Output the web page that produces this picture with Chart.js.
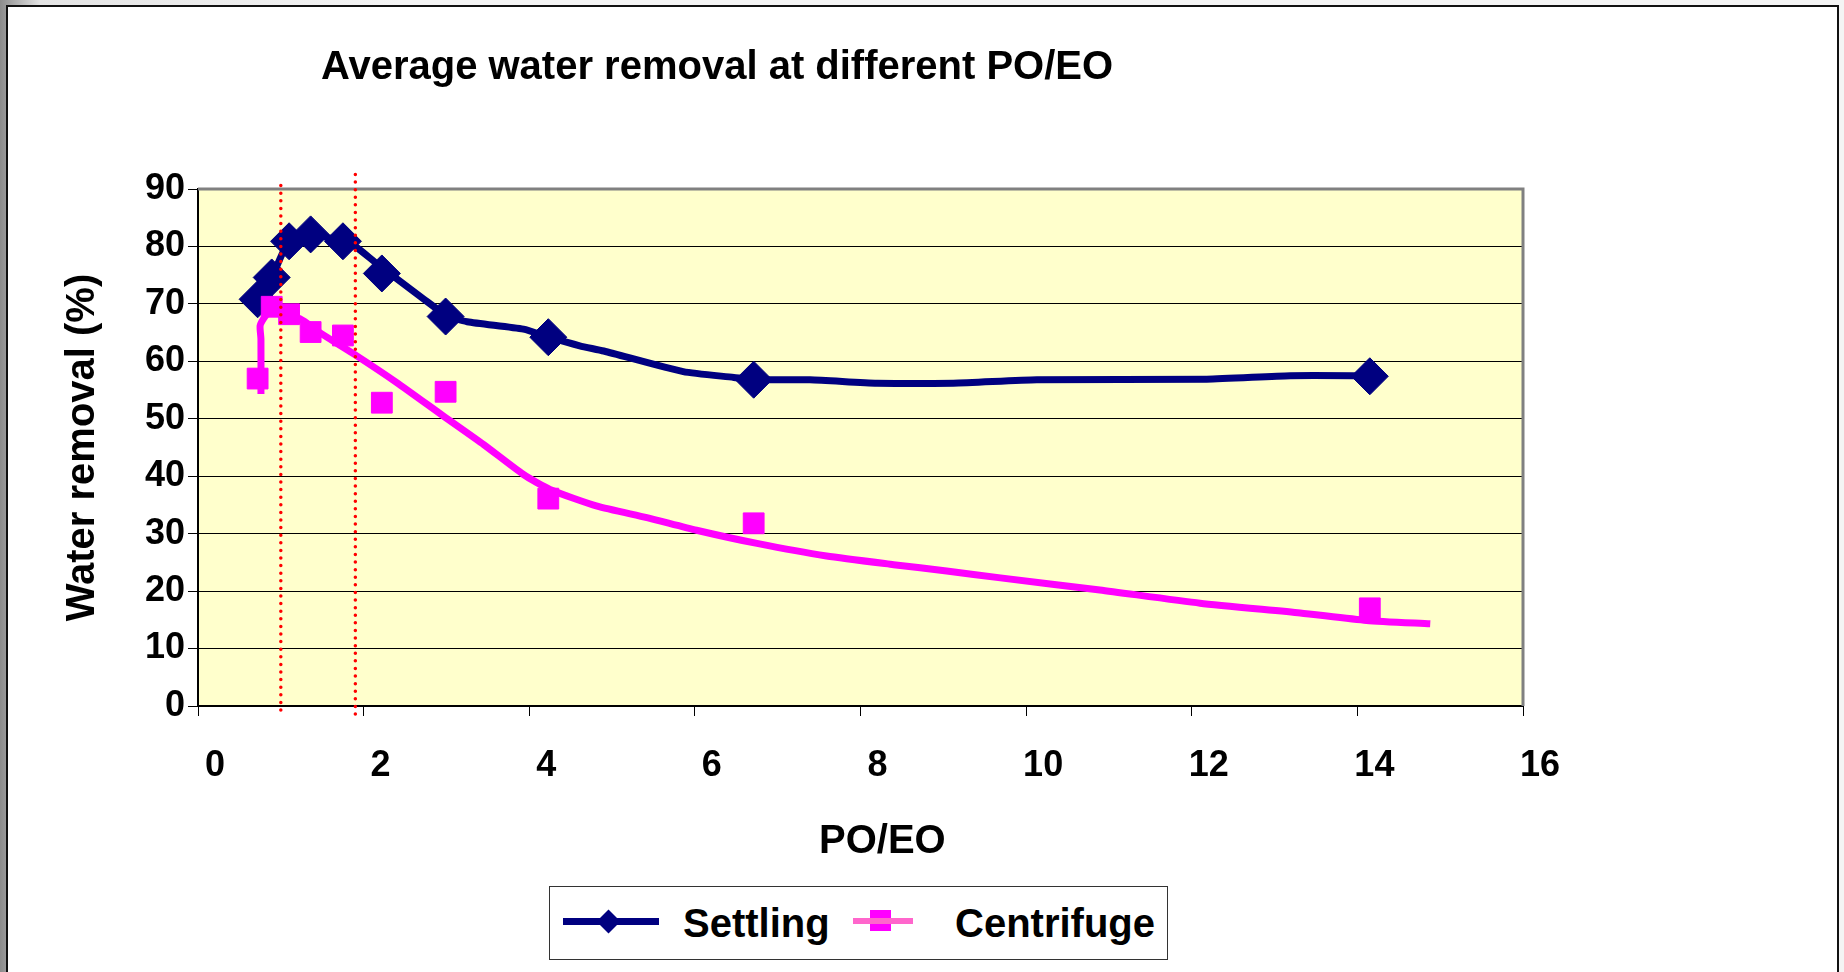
<!DOCTYPE html>
<html>
<head>
<meta charset="utf-8">
<title>Average water removal at different PO/EO</title>
<script src="https://cdn.jsdelivr.net/npm/chart.js"></script>
<style>
  body {
    margin: 0;
    width: 1844px;
    height: 972px;
    overflow: hidden;
    background: linear-gradient(90deg, #8c8c8c 0px, #e4e4e4 40px, #f4f4f4 400px);
    font-family: "Liberation Sans", Arial, sans-serif;
  }
  #frame {
    position: absolute;
    left: 6px;
    top: 5px;
    width: 1829px;
    height: 1000px;
    border: 2px solid #111;
    background: #fff;
  }
  #chartBox {
    position: absolute;
    left: 0;
    top: 0;
    width: 1844px;
    height: 972px;
  }
  .txt {
    position: absolute;
    font-weight: bold;
    font-size: 40px;
    line-height: 40px;
    white-space: nowrap;
    color: #000;
  }
  #legend {
    position: absolute;
    left: 549px;
    top: 886px;
    width: 617px;
    height: 72px;
    border: 1px solid #333;
    background: #fff;
  }
  #legend div { position: absolute; }
</style>
</head>
<body>
<div id="frame"></div>
<div id="chartBox"><canvas id="myChart" width="1844" height="972"></canvas></div>

<div class="txt" id="title" style="left:321px; top:45px;">Average water removal at different PO/EO</div>
<div class="txt" id="xTitle" style="left:819px; top:819px;">PO/EO</div>

<div id="legend">
  <div style="left:13px; top:31px; width:96px; height:7px; background:#000080;"></div>
  <div style="left:50px; top:26px; width:17px; height:17px; background:#000080; transform:rotate(45deg);"></div>
  <div class="txt" style="left:133px; top:16px;">Settling</div>
  <div style="left:320px; top:23px; width:21px; height:21px; background:#ff00ff;"></div>
  <div style="left:303px; top:31px; width:60px; height:6px; background:#ff66cc;"></div>
  <div class="txt" style="left:405px; top:16px;">Centrifuge</div>
</div>

<script>
// measured points (PO/EO ratio) - same for both methods
const poEo = [0.72, 0.89, 1.1, 1.36, 1.75, 2.22, 2.99, 4.23, 6.71, 14.15];
const settling = [70.8, 74.6, 80.9, 82.1, 80.9, 75.3, 67.8, 64.2, 56.8, 57.4];
const centrifuge = [57.0, 69.5, 68.2, 65.1, 64.5, 52.8, 54.7, 36.1, 31.8, 17.0];

// fitted curves
const settlingFitX = [0.72, 0.89, 1.1, 1.36, 1.75, 1.88, 2.16, 2.48, 2.72, 3.0, 3.25, 3.93, 4.24, 4.61, 4.9, 5.86, 6.47, 6.71, 7.39, 8.2, 9.12, 10.13, 12.18, 13.19, 13.95, 14.15];
const settlingFitY = [70.8, 74.6, 80.9, 82.1, 80.9, 80.2, 77.0, 73.5, 70.9, 68.0, 66.9, 65.6, 64.2, 62.7, 61.8, 58.2, 57.2, 56.8, 56.8, 56.2, 56.2, 56.8, 56.9, 57.5, 57.5, 57.4];
const centrifugeFitX = [0.76, 0.76, 0.75, 0.8, 0.87, 1.23, 1.47, 1.88, 2.4, 2.96, 3.45, 3.93, 4.25, 4.82, 5.42, 6.02, 6.75, 7.59, 8.4, 9.04, 9.69, 10.89, 12.1, 13.31, 14.11, 14.88];
const centrifugeFitY = [54.3, 63.9, 66.2, 67.6, 68.8, 67.4, 65.0, 61.3, 56.3, 50.5, 45.5, 40.3, 37.7, 34.8, 32.8, 30.6, 28.3, 26.1, 24.6, 23.5, 22.3, 20.2, 17.9, 16.2, 14.9, 14.3];

// red dotted markers (PO/EO limits) and how far they reach
const limitX = [1.0, 1.9];
const limitLow = [-0.7, -1.4];
const limitHigh = [91.3, 93.2];

// axis ticks
const xMin = 0, xMax = 16, xStep = 2;
const yMin = 0, yMax = 90, yStep = 10;

function toPoints(xs, ys) {
  var pts = [];
  for (var i = 0; i < xs.length; i++) {
    pts.push({ x: xs[i], y: ys[i] });
  }
  return pts;
}

function limitLine(i) {
  return {
    data: [{ x: limitX[i], y: limitLow[i] }, { x: limitX[i], y: limitHigh[i] }],
    showLine: true,
    borderColor: "#ff0000",
    borderWidth: 3.5,
    borderDash: [0, 7.6],
    borderCapStyle: "round",
    pointRadius: 0,
    clip: false,
  };
}

// yellow plot area plus grey frame on top/right like the old Excel chart
const plotArea = {
  id: "plotArea",
  beforeDraw(chart) {
    const a = chart.chartArea;
    const ctx = chart.ctx;
    ctx.save();
    ctx.fillStyle = "#ffffcc";
    ctx.fillRect(a.left, a.top, a.right - a.left, a.bottom - a.top);
    ctx.restore();
  },
  beforeDatasetsDraw(chart) {
    const a = chart.chartArea;
    const ctx = chart.ctx;
    ctx.save();
    ctx.strokeStyle = "#808080";
    ctx.lineWidth = 3;
    ctx.beginPath();
    ctx.moveTo(a.left, a.top);
    ctx.lineTo(a.right, a.top);
    ctx.lineTo(a.right, a.bottom);
    ctx.stroke();
    ctx.restore();
  },
};

Chart.defaults.font.family = '"Liberation Sans", Arial, sans-serif';
Chart.defaults.color = "#000";

const myChart = new Chart("myChart", {
  type: "scatter",
  data: {
    datasets: [
      limitLine(0),
      limitLine(1),
      {
        label: "Centrifuge",
        data: toPoints(poEo, centrifuge),
        showLine: false,
        pointStyle: "rect",
        pointRadius: 14.7,
        pointBackgroundColor: "#ff00ff",
        pointBorderColor: "#ff00ff",
        pointBorderWidth: 1,
      },
      {
        data: toPoints(centrifugeFitX, centrifugeFitY),
        showLine: true,
        borderColor: "#ff00ff",
        borderWidth: 7,
        tension: 0.2,
        pointRadius: 0,
      },
      {
        label: "Settling",
        data: toPoints(poEo, settling),
        showLine: false,
        pointStyle: "rectRot",
        pointRadius: 18.5,
        pointBackgroundColor: "#000080",
        pointBorderColor: "#000080",
        pointBorderWidth: 1,
      },
      {
        data: toPoints(settlingFitX, settlingFitY),
        showLine: true,
        borderColor: "#000080",
        borderWidth: 7,
        tension: 0.2,
        pointRadius: 0,
      },
    ],
  },
  options: {
    responsive: false,
    animation: false,
    devicePixelRatio: 1,
    layout: {
      padding: { left: 40, top: 189, right: 321, bottom: 186 },
    },
    plugins: {
      legend: { display: false },
      title: { display: false },
      tooltip: { enabled: false },
    },
    scales: {
      x: {
        type: "linear",
        min: xMin,
        max: xMax,
        afterFit(scale) {
          scale.height = 80;
        },
        ticks: {
          stepSize: xStep,
          labelOffset: 17,
          padding: 28,
          font: { size: 36, weight: "bold" },
        },
        grid: {
          drawOnChartArea: false,
          drawTicks: true,
          tickLength: 10,
          color: "#000",
        },
        border: { color: "#000", width: 2 },
      },
      y: {
        min: yMin,
        max: yMax,
        afterFit(scale) {
          scale.width = 158;
        },
        ticks: {
          stepSize: yStep,
          padding: 3,
          font: { size: 36, weight: "bold" },
        },
        grid: {
          color: "#000",
          lineWidth: 1,
          tickLength: 10,
        },
        border: { color: "#000", width: 2 },
        title: {
          display: true,
          text: "Water removal (%)",
          padding: { top: 19, bottom: 0 },
          font: { size: 40, weight: "bold" },
        },
      },
    },
  },
  plugins: [plotArea],
});
</script>
</body>
</html>
